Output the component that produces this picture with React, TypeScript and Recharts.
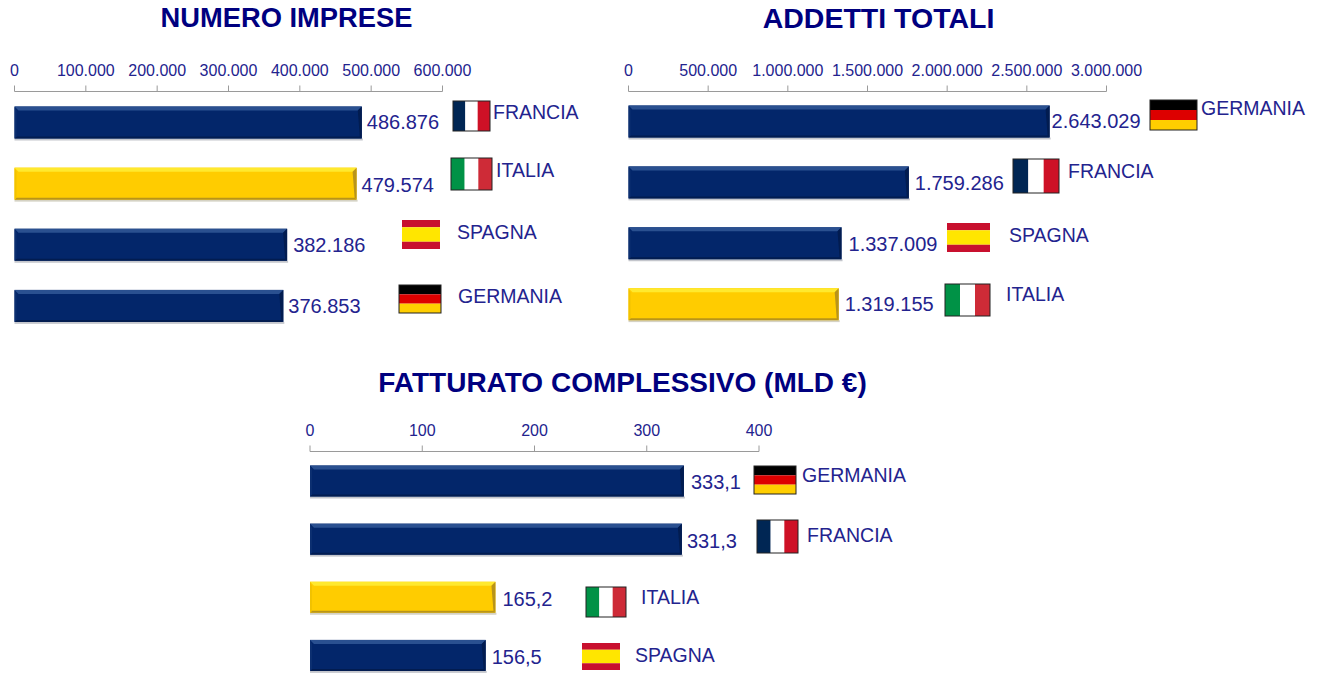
import React from 'react';
import { BarChart, Bar, XAxis, YAxis, LabelList } from 'recharts';

const impreseCountries = ['FRANCIA', 'ITALIA', 'SPAGNA', 'GERMANIA'];
const impreseValues = [486876, 479574, 382186, 376853];
const impreseTicks = [0, 100000, 200000, 300000, 400000, 500000, 600000];

const addettiCountries = ['GERMANIA', 'FRANCIA', 'SPAGNA', 'ITALIA'];
const addettiValues = [2643029, 1759286, 1337009, 1319155];
const addettiTicks = [0, 500000, 1000000, 1500000, 2000000, 2500000, 3000000];

const fatturatoCountries = ['GERMANIA', 'FRANCIA', 'ITALIA', 'SPAGNA'];
const fatturatoValues = [333.1, 331.3, 165.2, 156.5];
const fatturatoTicks = [0, 100, 200, 300, 400];

const NAVY = { face: '#03266a', top: '#2a5090', side: '#0c2f70', low: '#021c50', shade: '#c4c6cc' };
const GOLD = { face: '#ffcc00', top: '#ffe92e', side: '#f2c200', low: '#b8941a', shade: '#d5d2c4' };
const TEXT = '#23238e';
const FONT = '"Liberation Sans", Arial, sans-serif';

const thousands = (v: number) => String(v).replace(/\B(?=(\d{3})+$)/g, '.');
const decimalComma = (v: number) => v.toFixed(1).replace('.', ',');

// next to each bar: flag x, y, w, h, name x, name mid y (page px), then value label dx, dy from the bar end
const impreseNotes = [
  [453, 101, 37, 30, 493, 112, 5, 0],
  [451, 158, 41, 32, 496, 170, 5, 2],
  [402, 220, 38, 29, 457, 232, 6, 1],
  [399, 285, 42, 28, 458, 296, 5, 1],
];
const addettiNotes = [
  [1150, 100, 47, 30, 1201, 108, 2, 0],
  [1013, 159, 46, 34, 1068, 171, 6, 1],
  [947, 223, 43, 29, 1009, 235, 7, 1],
  [945, 284, 45, 32, 1006, 294, 6, 0],
];
const fatturatoNotes = [
  [754, 466, 42, 28, 802, 475, 7, 1],
  [757, 520, 41, 33, 807, 535, 5, 2],
  [586, 587, 40, 30, 641, 597, 7, 2],
  [582, 643, 38, 27, 635, 655, 6, 2],
];

const Flag = ({ country, x, y, w, h }: { country: string; x: number; y: number; w: number; h: number }) => {
  const border = <rect x={x} y={y} width={w} height={h} fill="none" stroke="#222" strokeWidth={1} />;
  if (country === 'GERMANIA') {
    return (
      <g>
        <rect x={x} y={y} width={w} height={h / 3} fill="#000" />
        <rect x={x} y={y + h / 3} width={w} height={h / 3} fill="#dd0000" />
        <rect x={x} y={y + (2 * h) / 3} width={w} height={h / 3} fill="#ffce00" />
        {border}
      </g>
    );
  }
  if (country === 'SPAGNA') {
    return (
      <g>
        <rect x={x} y={y} width={w} height={h / 4} fill="#c8102e" />
        <rect x={x} y={y + h / 4} width={w} height={h / 2} fill="#ffe600" />
        <rect x={x} y={y + (3 * h) / 4} width={w} height={h / 4} fill="#c8102e" />
      </g>
    );
  }
  const left = country === 'FRANCIA' ? '#002654' : '#009246';
  const right = country === 'FRANCIA' ? '#ce1126' : '#ce2b37';
  return (
    <g>
      <rect x={x} y={y} width={w / 3} height={h} fill={left} />
      <rect x={x + w / 3} y={y} width={w / 3} height={h} fill="#fff" />
      <rect x={x + (2 * w) / 3} y={y} width={w / 3} height={h} fill={right} />
      {border}
    </g>
  );
};

const BevelBar = (props: any) => {
  const { x, y, width, height, payload } = props;
  const c = payload.country === 'ITALIA' ? GOLD : NAVY;
  const b = 4;
  return (
    <g>
      <rect x={x} y={y + height} width={width + 1} height={2} fill={c.shade} />
      <rect x={x} y={y} width={width} height={height} fill={c.face} />
      <polygon points={`${x},${y} ${x + width},${y} ${x + width - b},${y + b} ${x + b},${y + b}`} fill={c.top} />
      <polygon points={`${x},${y + height} ${x + width},${y + height} ${x + width - 2},${y + height - 2} ${x + 2},${y + height - 2}`} fill={c.low} />
      <polygon points={`${x + width},${y} ${x + width},${y + height} ${x + width - 2},${y + height - 2} ${x + width - b},${y + b}`} fill={c.low} />
      <polygon points={`${x},${y} ${x},${y + height} ${x + 2},${y + height - 2} ${x + 2},${y + b}`} fill={c.side} />
    </g>
  );
};

interface PanelProps {
  title: string;
  titleCenter: number;
  titleTop: number;
  titleSize: number;
  countries: string[];
  values: number[];
  ticks: number[];
  notes: number[][];
  fmt: (v: number) => string;
  tickFmt: (v: number) => string;
  left: number;
  top: number;
  width: number;
  height: number;
  plotLeft: number;
  plotRight: number;
  barSize: number;
}

const Panel = (p: PanelProps) => {
  const data = p.countries.map((country, i) => ({ country, value: p.values[i] }));
  const renderNote = (props: any) => {
    const { x, y, width, height, index, value } = props;
    const n = p.notes[index];
    const country = p.countries[index];
    return (
      <g>
        <text x={x + width + n[6]} y={y + height / 2 + 6.5 + n[7]} fontSize={20} fontFamily={FONT} fill={TEXT}>
          {p.fmt(value)}
        </text>
        <Flag country={country} x={n[0] - p.left} y={n[1] - p.top} w={n[2]} h={n[3]} />
        <text x={n[4] - p.left} y={n[5] - p.top + 7} fontSize={19.5} fontFamily={FONT} fill={TEXT}>
          {country}
        </text>
      </g>
    );
  };
  return (
    <>
      <div
        style={{
          position: 'absolute',
          left: p.titleCenter - 400,
          width: 800,
          top: p.titleTop,
          textAlign: 'center',
          fontFamily: FONT,
          fontWeight: 700,
          fontSize: p.titleSize,
          lineHeight: '30px',
          color: '#00007f',
        }}
      >
        {p.title}
      </div>
      <div style={{ position: 'absolute', left: p.left, top: p.top }}>
        <BarChart
          width={p.width}
          height={p.height}
          data={data}
          layout="vertical"
          barSize={p.barSize}
          margin={{ top: 11.5, right: p.width - p.plotRight, bottom: 0, left: p.plotLeft }}
        >
          <XAxis
            type="number"
            orientation="top"
            height={30}
            domain={[0, p.ticks[p.ticks.length - 1]]}
            ticks={p.ticks}
            tickFormatter={p.tickFmt}
            interval={0}
            stroke="#9a9a9a"
            tickSize={6}
            tickMargin={10}
            tick={{ fill: TEXT, fontSize: 16, fontFamily: FONT }}
          />
          <YAxis type="category" dataKey="country" width={0} tick={false} tickLine={false} stroke="#9a9a9a" />
          <Bar dataKey="value" shape={BevelBar} isAnimationActive={false}>
            <LabelList dataKey="value" content={renderNote} />
          </Bar>
        </BarChart>
      </div>
    </>
  );
};

export default function App() {
  return (
    <div style={{ position: 'absolute', left: 0, top: 0, width: 1319, height: 676, overflow: 'hidden', background: '#fff' }}>
      <Panel
        title="NUMERO IMPRESE"
        titleCenter={286.5}
        titleTop={3}
        titleSize={27.3}
        countries={impreseCountries}
        values={impreseValues}
        ticks={impreseTicks}
        notes={impreseNotes}
        fmt={thousands}
        tickFmt={thousands}
        left={0}
        top={50}
        width={600}
        height={286}
        plotLeft={14.5}
        plotRight={442.5}
        barSize={32}
      />
      <Panel
        title="ADDETTI TOTALI"
        titleCenter={878.5}
        titleTop={3}
        titleSize={28.5}
        countries={addettiCountries}
        values={addettiValues}
        ticks={addettiTicks}
        notes={addettiNotes}
        fmt={thousands}
        tickFmt={thousands}
        left={600}
        top={50}
        width={719}
        height={285}
        plotLeft={28.5}
        plotRight={506.5}
        barSize={32}
      />
      <Panel
        title="FATTURATO COMPLESSIVO (MLD €)"
        titleCenter={622.5}
        titleTop={368}
        titleSize={28}
        countries={fatturatoCountries}
        values={fatturatoValues}
        ticks={fatturatoTicks}
        notes={fatturatoNotes}
        fmt={decimalComma}
        tickFmt={(v) => String(v)}
        left={280}
        top={410}
        width={700}
        height={274}
        plotLeft={30}
        plotRight={479}
        barSize={31}
      />
    </div>
  );
}
